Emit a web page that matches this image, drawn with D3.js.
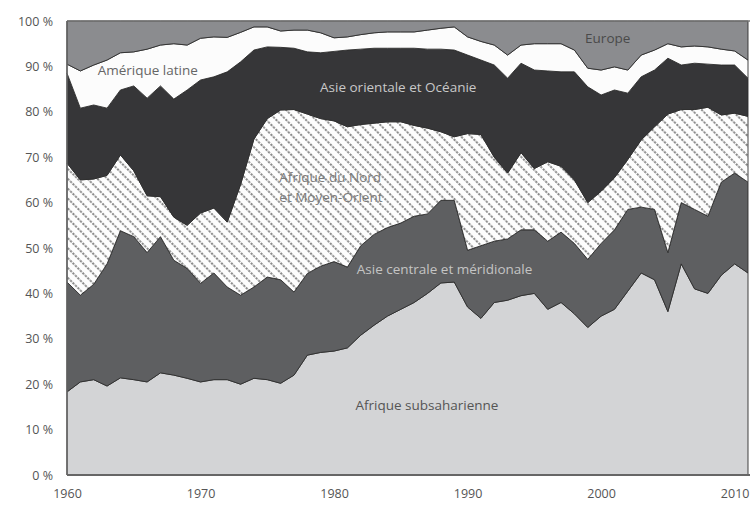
<!DOCTYPE html>
<html>
<head>
<meta charset="utf-8">
<script src="https://cdnjs.cloudflare.com/ajax/libs/d3/7.8.5/d3.min.js"></script>
<style>
  body { margin: 0; background: #fff; }
  svg { display: block; font-family: "Open Sans", sans-serif; }
  .axis text { fill: #555; }
  .lbl { font-size: 13.5px; }
</style>
</head>
<body>
<svg id="chart" width="750" height="506"></svg>
<script>
// shares (%) by region, 1960-2011
var years = d3.range(1960, 2012);

var afriqueSub = [18.3, 20.5, 21.0, 19.6, 21.4, 21.0, 20.5, 22.5, 22.0, 21.3,
  20.5, 21.0, 21.0, 20.0, 21.3, 21.0, 20.2, 22.0, 26.4, 27.0,
  27.3, 28.0, 30.8, 33.0, 35.0, 36.5, 38.0, 40.0, 42.3, 42.5,
  37.0, 34.5, 38.0, 38.5, 39.5, 40.0, 36.5, 38.0, 35.5, 32.5,
  35.0, 36.5, 40.5, 44.5, 43.0, 36.0, 46.5, 41.0, 40.0, 44.0,
  46.5, 44.5];

var asieCentrale = [24.2, 19.1, 21.0, 26.9, 32.4, 31.5, 28.5, 30.0, 25.3, 24.2,
  21.7, 23.5, 20.4, 19.6, 20.1, 22.6, 22.8, 18.3, 18.0, 19.0,
  19.7, 17.8, 19.7, 20.0, 19.5, 19.0, 19.0, 17.5, 18.2, 18.0,
  12.5, 16.0, 13.5, 13.5, 14.5, 14.0, 15.0, 15.5, 15.5, 15.0,
  16.0, 17.5, 18.0, 14.5, 15.5, 13.0, 13.5, 17.5, 17.0, 20.5,
  20.0, 20.0];

var afriqueNord = [26.2, 25.4, 23.2, 19.5, 16.7, 14.5, 12.5, 8.8, 9.5, 9.5,
  15.5, 14.3, 14.3, 24.4, 32.6, 34.9, 37.4, 40.2, 35.1, 32.5,
  31.0, 30.9, 26.7, 24.5, 23.3, 22.3, 20.0, 18.9, 15.1, 14.0,
  25.7, 24.5, 18.5, 14.5, 17.0, 13.5, 17.5, 14.5, 14.0, 12.5,
  11.5, 11.5, 11.0, 14.8, 18.2, 30.5, 20.5, 22.0, 24.0, 14.8,
  13.2, 14.5];

var asieOrientale = [19.8, 15.8, 16.3, 14.8, 14.3, 18.7, 21.5, 24.4, 26.0, 29.8,
  29.3, 28.9, 33.1, 27.0, 19.6, 15.8, 13.8, 13.5, 13.7, 14.5,
  15.3, 16.9, 16.6, 16.5, 16.2, 16.2, 17.0, 17.4, 18.2, 19.1,
  17.3, 16.4, 20.3, 20.9, 19.7, 21.7, 20.0, 20.8, 23.8, 25.5,
  21.2, 19.3, 14.6, 13.9, 12.5, 12.3, 9.8, 10.2, 9.5, 11.0,
  10.6, 8.4];

var ameriqueLatine = [2.0, 8.2, 8.8, 10.6, 8.2, 7.5, 10.8, 9.0, 12.2, 9.9,
  9.2, 8.8, 7.6, 6.5, 5.1, 4.4, 3.6, 4.0, 4.8, 4.4,
  3.0, 2.9, 3.2, 3.4, 3.6, 3.6, 3.6, 4.2, 4.6, 5.1,
  4.0, 4.1, 4.4, 5.1, 4.0, 5.8, 6.0, 6.2, 4.8, 4.1,
  5.5, 5.1, 5.1, 4.8, 4.4, 3.2, 4.0, 3.8, 3.8, 3.5,
  3.1, 4.0];

var europe = [9.5, 11.0, 9.7, 8.6, 7.0, 6.8, 6.2, 5.3, 5.0, 5.3,
  3.8, 3.5, 3.6, 2.5, 1.3, 1.3, 2.2, 2.0, 2.0, 2.6,
  3.7, 3.5, 3.0, 2.6, 2.4, 2.4, 2.4, 2.0, 1.6, 1.3,
  3.5, 4.5, 5.3, 7.5, 5.3, 5.0, 5.0, 5.0, 6.4, 10.4,
  10.8, 10.1, 10.8, 7.5, 6.4, 5.0, 5.7, 5.5, 5.7, 6.2,
  6.6, 8.6];

var regions = ["afriqueSub", "asieCentrale", "afriqueNord", "asieOrientale", "ameriqueLatine", "europe"];
var series = [afriqueSub, asieCentrale, afriqueNord, asieOrientale, ameriqueLatine, europe];
var fills = ["#d3d4d6", "#5e5f61", "url(#hatch)", "#363638", "#fcfcfc", "#8b8c8f"];

var yTicks = [0, 10, 20, 30, 40, 50, 60, 70, 80, 90, 100];
var xTicks = [1960, 1970, 1980, 1990, 2000, 2010];

var labels = [
  {text: ["Afrique subsaharienne"], year: 1981.6, value: 14.4, color: "#555"},
  {text: ["Asie centrale et méridionale"], year: 1981.7, value: 44.2, color: "#c4c4c4"},
  {text: ["Afrique du Nord", "et Moyen-Orient"], year: 1975.9, value: 64.6, color: "#7a7a7a", lh: 20},
  {text: ["Asie orientale et Océanie"], year: 1978.95, value: 84.3, color: "#c8c8c8"},
  {text: ["Amérique latine"], year: 1962.3, value: 88.2, color: "#666"},
  {text: ["Europe"], year: 1998.8, value: 95.2, color: "#4a4a4a"}
];

var table = years.map(function(yr, i) {
  var row = {year: yr};
  regions.forEach(function(r, j) { row[r] = series[j][i]; });
  return row;
});

var svg = d3.select("#chart"),
    margin = {top: 21, right: 2, bottom: 31, left: 67},
    width = +svg.attr("width") - margin.left - margin.right,
    height = +svg.attr("height") - margin.top - margin.bottom,
    g = svg.append("g").attr("transform", "translate(" + margin.left + "," + margin.top + ")");

// diagonal hatching for Afrique du Nord
var defs = svg.append("defs");
var pat = defs.append("pattern")
    .attr("id", "hatch")
    .attr("patternUnits", "userSpaceOnUse")
    .attr("width", 7)
    .attr("height", 7)
    .attr("patternTransform", "rotate(-45)");
pat.append("rect").attr("width", 7).attr("height", 7).attr("fill", "#fdfdfd");
pat.append("line")
    .attr("x1", 1).attr("y1", 0).attr("x2", 1).attr("y2", 7)
    .attr("stroke", "#8a8a8a")
    .attr("stroke-width", 2)
    .attr("stroke-dasharray", "2.3,1.2");

var x = d3.scaleLinear()
    .domain([1960, 2011])
    .range([0, width]);

var y = d3.scaleLinear()
    .domain([0, 100])
    .range([height, 0]);

var stack = d3.stack().keys(regions);
var layers = stack(table);

var area = d3.area()
    .x(function(d) { return x(d.data.year); })
    .y0(function(d) { return y(d[0]); })
    .y1(function(d) { return y(d[1]); });

g.selectAll(".layer")
  .data(layers)
  .enter().append("path")
    .attr("class", "layer")
    .attr("d", area)
    .attr("fill", function(d, i) { return fills[i]; })
    .attr("stroke", "#2e2e2e")
    .attr("stroke-width", 0.9)
    .attr("stroke-linejoin", "round");

// frame
g.append("line")
    .attr("x1", 0).attr("x2", width + margin.right)
    .attr("y1", 0).attr("y2", 0)
    .attr("stroke", "#777").attr("stroke-width", 1.5);
g.append("line")
    .attr("x1", 0).attr("x2", 0)
    .attr("y1", 0).attr("y2", height)
    .attr("stroke", "#666").attr("stroke-width", 1.5);
g.append("line")
    .attr("x1", 0).attr("x2", width + margin.right)
    .attr("y1", height).attr("y2", height)
    .attr("stroke", "#666").attr("stroke-width", 2);

g.append("g")
    .attr("class", "axis axis--y")
    .call(d3.axisLeft(y).tickValues(yTicks).tickSize(0).tickPadding(14)
      .tickFormat(function(d) { return d + " %"; }))
    .call(function(s) { s.select(".domain").remove(); })
    .selectAll("text").attr("font-family", "Open Sans").attr("font-size", 12.5);

g.append("g")
    .attr("class", "axis axis--x")
    .attr("transform", "translate(0," + height + ")")
    .call(d3.axisBottom(x).tickValues(xTicks).tickSize(0).tickPadding(14)
      .tickFormat(d3.format("d")))
    .call(function(s) { s.select(".domain").remove(); })
    .selectAll("text").attr("font-family", "Open Sans").attr("font-size", 12.5);

// region labels
labels.forEach(function(l) {
  var t = g.append("text")
      .attr("class", "lbl")
      .attr("x", x(l.year))
      .attr("y", y(l.value))
      .attr("fill", l.color);
  l.text.forEach(function(s, k) {
    t.append("tspan")
        .attr("x", x(l.year))
        .attr("dy", k === 0 ? 0 : l.lh)
        .text(s);
  });
});
</script>
</body>
</html>
